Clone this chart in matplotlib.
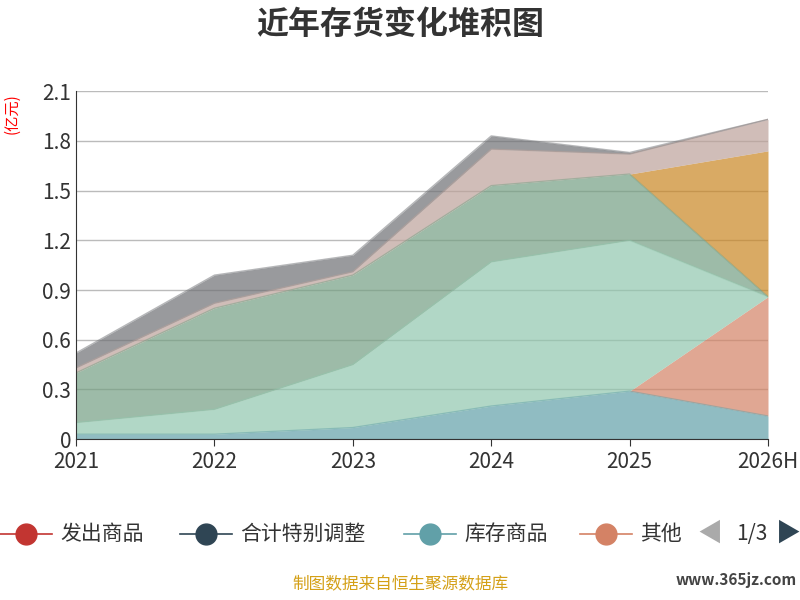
import numpy as np
import matplotlib.pyplot as plt
from matplotlib.lines import Line2D

plt.rcParams['font.family'] = ['Noto Sans CJK SC', 'DejaVu Sans']

years = ['2021', '2022', '2023', '2024', '2025', '2026H']
names = ['发出商品', '合计特别调整', '库存商品', '其他', 's5', 's6', 's7', 's8', 's9']
colors = ['#c23531', '#2f4554', '#61a0a8', '#d48265', '#91c7ae', '#749f83',
          '#ca8622', '#bda29a', '#6e7074']
vals = [
    [0, 0, 0, 0, 0, 0],
    [0, 0, 0, 0, 0, 0],
    [0.03, 0.03, 0.07, 0.20, 0.29, 0.14],
    [0, 0, 0, 0, 0, 0.72],
    [0.07, 0.15, 0.38, 0.87, 0.91, 0],
    [0.30, 0.61, 0.54, 0.46, 0.40, 0],
    [0, 0, 0, 0, 0, 0.88],
    [0.03, 0.03, 0.02, 0.22, 0.12, 0.19],
    [0.09, 0.17, 0.10, 0.08, 0.01, 0],
]

fig = plt.figure(figsize=(8, 6), dpi=100)
ax = fig.add_axes([0.095, 0.268, 0.865, 0.58])
x = np.arange(len(years))
base = np.zeros(len(years))
for v, c in zip(vals, colors):
    top = base + np.array(v)
    ax.fill_between(x, base, top, color=c, alpha=0.7, lw=0)
    if max(v[:5]) > 0:
        ax.plot(x, top, color=c, lw=1, alpha=0.5)
    base = top

ax.set_xlim(0, 5)
ax.set_ylim(0, 2.1)
ax.set_yticks(np.arange(0, 2.11, 0.3))
ax.set_yticklabels(['0', '0.3', '0.6', '0.9', '1.2', '1.5', '1.8', '2.1'])
ax.set_xticks(x)
ax.set_xticklabels(years)
ax.grid(axis='y', color='#bbbbbb', lw=1)
ax.set_axisbelow(True)
for s in ['top', 'right']:
    ax.spines[s].set_visible(False)
ax.spines['left'].set_color('#333333')
ax.spines['bottom'].set_color('#333333')
ax.tick_params(labelsize=15, colors='#333333', length=5)
ax.tick_params(axis='y', length=0)

fig.text(0.5, 0.958, '近年存货变化堆积图', ha='center', va='center', fontsize=23,
         fontweight='heavy', color='#333333')
fig.text(0.015, 0.81, '(亿元)', rotation=90, color='red', fontsize=11,
         ha='center', va='center')

# legend
lx = [0.0, 0.225, 0.505, 0.725]
for i in range(4):
    xx = lx[i]
    fig.add_artist(Line2D([xx, xx + 0.065], [0.11, 0.11], color=colors[i], lw=1.2))
    fig.add_artist(Line2D([xx + 0.0325], [0.11], marker='o', ms=15, color=colors[i]))
    fig.text(xx + 0.075, 0.11, names[i], fontsize=15, va='center', color='#333333')
fig.text(0.887, 0.11, '◀', fontsize=18, va='center', ha='center', color='#aaaaaa')
fig.text(0.94, 0.11, '1/3', fontsize=15, va='center', ha='center', color='#333333')
fig.text(0.985, 0.11, '▶', fontsize=18, va='center', ha='center', color='#2f4554')

fig.text(0.5, 0.018, '制图数据来自恒生聚源数据库', ha='center', fontsize=12, color='#d4a017')
fig.text(0.92, 0.025, 'www.365jz.com', ha='center', fontsize=11, color='#444444',
         fontweight='bold')

fig.savefig('out.png')
